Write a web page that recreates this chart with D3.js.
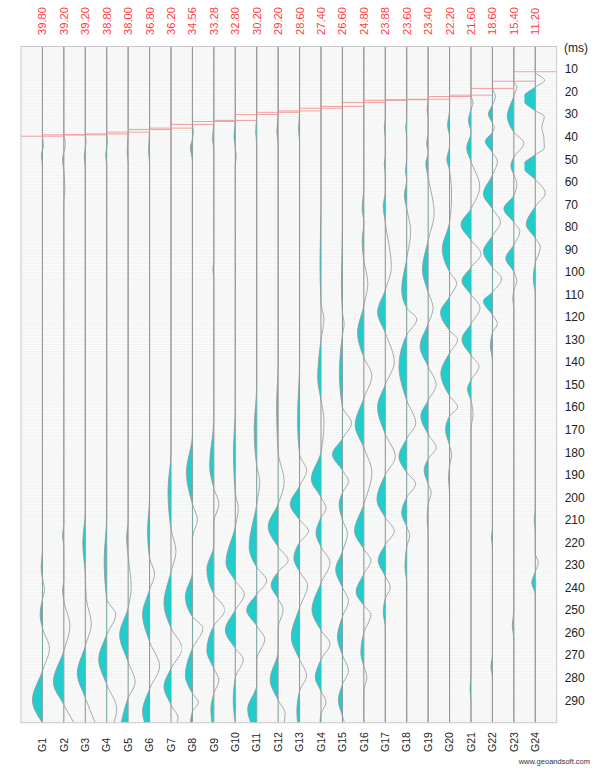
<!DOCTYPE html>
<html>
<head>
<meta charset="utf-8">
<script src="https://cdn.jsdelivr.net/npm/d3@7"></script>
<style>
  body { margin: 0; background: #fff; }
  svg { display: block; }
  text { font-family: "Liberation Sans", Arial, sans-serif; }
</style>
</head>
<body>
<svg id="chart" width="604" height="769"></svg>
<script>
// Geophone channels and first-break picks (ms)
const traceNames = d3.range(1, 25).map(i => "G" + i);
const pickTimes = [39.80, 39.20, 39.20, 38.80, 38.00, 36.80, 36.20, 34.56, 33.28, 32.80, 30.20, 29.20,
                   28.60, 27.40, 26.60, 24.80, 23.88, 23.60, 23.40, 22.20, 21.60, 18.60, 15.40, 11.20];
const timeTicks = [10, 20, 30, 40, 50, 60, 70, 80, 90, 100, 110, 120, 130, 140, 150,
                   160, 170, 180, 190, 200, 210, 220, 230, 240, 250, 260, 270, 280, 290];

// Wiggle samples per channel: [time ms, amplitude] (negative = filled lobe)
const wG1 = [[0,0],[39.8,0],[44,0.1],[48,-0.1],[53,0],[224,0],[231,-0.13],[236,0],[241,0.2],[245,0],[252,-0.23],[258,0],[267,0.7],[277,0],[290,-1.0],[300,0]];
const wG2 = [[0,0],[39.2,0],[43,0.15],[47,0],[50,-0.13],[55,0],[64,0.1],[69,0],[212,0],[217,-0.13],[222,0],[237,0],[241,-0.13],[246,0],[257,0.6],[268,0],[282,-1.05],[292,0],[300,1.0]];
const wG3 = [[0,0],[39.2,0],[42,0.08],[45,0],[49,-0.1],[54,0],[206,0],[220,-0.25],[234,0],[245,0.1],[256,0.6],[266,0],[278,-0.8],[289,0],[300,1.0]];
const wG4 = [[0,0],[38.8,0],[42,0.08],[45,0],[48,-0.1],[53,0],[208,0],[228,-0.25],[245,0],[252,0.9],[261,0],[272,-0.8],[283,0],[294,1.0],[300,0.7]];
const wG5 = [[0,0],[38,0],[47,-0.1],[52,0],[210,0],[218,-0.15],[226,0],[240,0.3],[249,0],[261,-0.85],[273,0],[282,0.7],[289,0],[300,-0.7]];
const wG6 = [[0,0],[36.8,0],[46,-0.1],[52,0],[200,0],[215,-0.2],[227,0],[234,0.5],[241,0],[252,-0.7],[264,0],[275,1.0],[285,0],[295,-0.7],[300,-0.5]];
const wG7 = [[0,0],[36.2,0],[180,0],[197,-0.3],[214,0],[224,0.5],[233,0],[247,-0.7],[258,0],[267,1.1],[276,0],[284,-0.7],[292,0],[298,0.7],[300,0.6]];
const wG8 = [[0,0],[34.56,0],[38,0.1],[41,0],[45,-0.2],[51,0],[172,0],[189,-0.6],[203,0],[210,0.5],[218,0],[233,0],[244,-0.7],[253,0],[258,1.05],[267,0],[279,-0.7],[287,0],[291,0.6],[295,0],[300,-0.2]];
const wG9 = [[0,0],[33.28,0],[41,-0.13],[46,0],[95,0],[99,-0.1],[103,0],[165,0],[186,-0.42],[196,0],[203,0.5],[211,0],[221,0],[232,-0.7],[243,0],[250,1.1],[257,0],[268,-0.7],[276,0],[281,0.5],[287,0],[294,-0.3],[300,-0.2]];
const wG10 = [[0,0],[32.8,0],[40,-0.13],[45,0],[49,0.1],[53,0],[160,0],[180,-0.18],[198,0],[205,0.3],[213,0],[229,-0.93],[237,0],[243,0.9],[250,0],[259,-1.0],[267,0],[272,0.8],[280,0],[290,-0.2],[300,0]];
const wG11 = [[0,0],[30.2,0],[38,-0.1],[43,0],[150,0],[170,-0.25],[186,0],[193,0.3],[203,0],[222,-0.75],[231,0],[237,1.0],[243,0],[250,-1.0],[257,0],[263,0.8],[272,0],[283,0],[294,-0.9],[300,-0.6]];
const wG12 = [[0,0],[29.2,0],[38,-0.13],[43,0],[140,0],[160,-0.15],[180,0],[193,0.6],[203,0],[213,-1.0],[222,0],[228,1.0],[233,0],[239,-0.7],[245,0],[250,0.5],[258,0],[268,0],[281,-0.8],[290,0],[296,0.7],[300,0.6]];
const wG13 = [[0,0],[28.6,0],[37,-0.1],[42,0],[140,0],[165,-0.2],[181,0],[188,0.7],[195,0],[203,-0.93],[210,0],[215,0.9],[220,0],[227,-0.57],[233,0],[239,0.8],[249,0],[262,-0.83],[272,0],[279,0.7],[286,0],[295,-0.27],[300,-0.2]];
const wG14 = [[0,0],[27.4,0],[70,0],[95,-0.1],[114,0],[121,0.3],[130,0],[147,-0.33],[157,0],[166,0.3],[180,0],[192,-0.97],[200,0],[205,0.5],[209,0],[216,-0.5],[222,0],[229,0.9],[238,0],[250,-0.9],[259,0],[265,0.9],[272,0],[280,-0.57],[286,0],[291,0.5],[296,0],[300,-0.1]];
const wG15 = [[0,0],[26.6,0],[80,0],[105,-0.1],[118,0],[123,0.17],[128,0],[145,-0.3],[160,0],[167,0.9],[174,0],[181,-1.0],[188,0],[193,0.6],[198,0],[203,-0.33],[210,0],[216,0.5],[224,0],[232,-0.67],[240,0],[246,0.6],[253,0],[262,-0.5],[270,0],[277,0.6],[283,0],[290,-0.4],[297,0],[300,0.2]];
const wG16 = [[0,0],[24.8,0],[62,0],[72,-0.17],[78,0],[86,-0.17],[95,0],[105,0.4],[115,0],[127,-0.63],[138,0],[146,0.8],[156,0],[168,-0.87],[178,0],[189,0.8],[203,0],[215,-0.93],[223,0],[228,0.7],[234,0],[242,-0.77],[248,0],[252,0.7],[260,0],[269,-0.3],[275,0],[280,0.3],[286,0],[300,0]];
const wG17 = [[0,0],[23.88,0],[32,0],[36,-0.1],[41,0],[48,0],[52,-0.1],[57,0],[64,0],[71,-0.2],[78,0],[98,0.6],[108,0],[118,-0.77],[127,0],[140,0.9],[150,0],[160,-0.77],[172,0],[182,1.0],[190,0],[201,-0.83],[209,0],[215,0.9],[221,0],[228,-0.7],[235,0],[240,0.5],[245,0],[251,-0.2],[258,0],[300,0]];
const wG18 = [[0,0],[23.6,0],[32,0],[36,-0.1],[40,0],[50,0],[55,-0.13],[59,0],[66,-0.23],[72,0],[82,0.4],[94,0],[108,-0.5],[116,0],[121,1.0],[128,0],[142,-0.77],[157,0],[167,0.9],[174,0],[182,-0.77],[189,0],[194,0.9],[200,0],[207,-0.5],[213,0],[217,0.3],[222,0],[231,-0.17],[238,0],[300,0]];
const wG19 = [[0,0],[23.4,0],[28,-0.1],[32,0],[38,0],[43,-0.15],[47,0],[52,-0.23],[58,0],[74,0.6],[86,0],[99,-0.57],[109,0],[116,0.5],[123,0],[133,-0.8],[142,0],[150,0.8],[157,0],[164,-0.73],[172,0],[178,0.8],[183,0],[188,-0.4],[194,0],[198,0.3],[203,0],[210,-0.1],[216,0],[300,0]];
const wG20 = [[0,0],[22.2,0],[28,0],[35,-0.2],[40,0],[44,0],[50,-0.27],[55,0],[66,0.2],[78,0],[90,-0.73],[100,0],[105,0.7],[111,0],[118,-0.9],[126,0],[130,0.8],[136,0],[145,-0.87],[155,0],[160,0.8],[164,0],[170,-0.4],[177,0],[181,0.2],[186,0],[192,-0.1],[198,0],[300,0]];
const wG21 = [[0,0],[21.6,0],[25,0.2],[28,0],[33,-0.25],[38,0],[45,-0.43],[51,0],[62,0.87],[72,0],[79,-1.0],[86,0],[92,1.0],[98,0],[104,-0.9],[110,0],[116,0.9],[123,0],[130,-0.9],[137,0],[142,0.8],[148,0],[152,-0.35],[157,0],[163,0.2],[170,0],[278,0],[285,-0.1],[291,0],[300,0]];
const wG22 = [[0,0],[18.6,0],[22,0.3],[26,0],[30,-0.4],[34,0],[36,0.2],[38,0],[42,-0.7],[47,0],[51,0.5],[57,0],[65.5,-0.9],[72,0],[78,0.8],[84,0],[91,-0.9],[98,0],[103,0.9],[109,0],[113,-0.9],[119,0],[123,0.5],[127,0],[133,-0.2],[139,0],[214,0],[218,-0.1],[222,0],[270,0],[275,-0.15],[280,0],[300,0]];
const wG23 = [[0,0],[15.4,0],[18,0.3],[22,0],[31,-0.65],[38,0],[43,1.0],[49,0],[53,-0.3],[57,0],[61,0.3],[66,0],[72,-1.0],[78,0],[82,0.6],[88,0],[94,-0.8],[100,0],[104,0.3],[108,0],[112,-0.1],[116,0],[250,0],[257,-0.15],[263,0],[300,0]];
const wG24 = [[0,0],[11.2,0],[15,0.93],[18,0],[23,-1.3],[28.5,0],[31,0.9],[36,0.65],[40,0.85],[45,0.9],[48,0],[53,-1.3],[59,0],[65,1.0],[71,0],[79,-0.9],[85,0],[89,0.5],[96,0],[103,-0.2],[110,0],[205,0],[210,-0.1],[216,0],[225,0],[229,0.3],[233,0],[238,-0.35],[243,0],[300,0]];

const wiggles = [wG1, wG2, wG3, wG4, wG5, wG6, wG7, wG8, wG9, wG10, wG11, wG12,
                 wG13, wG14, wG15, wG16, wG17, wG18, wG19, wG20, wG21, wG22, wG23, wG24];

const svg = d3.select("#chart");
const plot = { left: 21, right: 556.7, top: 46.5, bottom: 722.7 };

const x = d3.scalePoint().domain(traceNames).range([plot.left, plot.right]).padding(1);
const step = x.step();
const y = d3.scaleLinear().domain([0, 300]).range([plot.top, plot.bottom]);
const amp = d3.scaleLinear().domain([0, 1]).range([0, step * 0.467]);
const clipLevel = 1.08;

const FILL = "#22cccc";

// plot background with fine 1 ms rulings
svg.append("rect")
  .attr("x", plot.left).attr("y", plot.top)
  .attr("width", plot.right - plot.left).attr("height", plot.bottom - plot.top)
  .attr("fill", "#fcfcfc");
svg.append("g").selectAll("line")
  .data(d3.range(0, 300, 1))
  .join("line")
  .attr("x1", plot.left).attr("x2", plot.right)
  .attr("y1", d => y(d) + 0.5).attr("y2", d => y(d) + 0.5)
  .attr("stroke", "#ebeded").attr("stroke-width", 0.7);

// trace baselines
svg.append("g").selectAll("line")
  .data(traceNames)
  .join("line")
  .attr("x1", d => x(d)).attr("x2", d => x(d))
  .attr("y1", plot.top).attr("y2", plot.bottom)
  .attr("stroke", "#929292").attr("stroke-width", 1);

const defs = svg.append("defs");
traceNames.forEach((name, i) => {
  const cx = x(name);
  const w = amp(clipLevel);
  defs.append("clipPath").attr("id", "neg" + i)
    .append("rect").attr("x", cx - w).attr("y", plot.top).attr("width", w).attr("height", plot.bottom - plot.top);
  defs.append("clipPath").attr("id", "all" + i)
    .append("rect").attr("x", cx - w).attr("y", plot.top).attr("width", 2 * w).attr("height", plot.bottom - plot.top);
});

const traces = svg.append("g");
wiggles.forEach((samples, i) => {
  const cx = x(traceNames[i]);
  const area = d3.area()
    .y(d => y(d[0]))
    .x0(cx)
    .x1(d => cx + amp(d[1]))
    .curve(d3.curveMonotoneY);
  const line = d3.line()
    .y(d => y(d[0]))
    .x(d => cx + amp(d[1]))
    .curve(d3.curveMonotoneY);
  traces.append("path")
    .attr("d", area(samples))
    .attr("fill", FILL)
    .attr("clip-path", `url(#neg${i})`);
  traces.append("path")
    .attr("d", line(samples))
    .attr("fill", "none")
    .attr("stroke", "#959595")
    .attr("stroke-width", 0.8)
    .attr("clip-path", `url(#all${i})`);
});

// plot frame
svg.append("rect")
  .attr("x", plot.left).attr("y", plot.top)
  .attr("width", plot.right - plot.left).attr("height", plot.bottom - plot.top)
  .attr("fill", "none").attr("stroke", "#c8c8c8").attr("stroke-width", 1);

// first-break pick marks, spanning neighbouring traces
svg.append("g").selectAll("line")
  .data(pickTimes)
  .join("line")
  .attr("x1", (d, i) => i === 0 ? plot.left : x(traceNames[i - 1]))
  .attr("x2", (d, i) => i === traceNames.length - 1 ? plot.right : x(traceNames[i + 1]))
  .attr("y1", d => y(d)).attr("y2", d => y(d))
  .attr("stroke", "#f28a8a").attr("stroke-width", 1).attr("stroke-opacity", 0.8);

// pick values above traces
svg.append("g").selectAll("text")
  .data(pickTimes)
  .join("text")
  .attr("transform", (d, i) => `translate(${x(traceNames[i])},35) rotate(-90)`)
  .attr("dy", "0.36em")
  .attr("text-anchor", "start")
  .attr("font-size", 11.2)
  .attr("fill", "#ff3b3b")
  .text(d => d3.format(".2f")(d));

// channel names below
svg.append("g").selectAll("text")
  .data(traceNames)
  .join("text")
  .attr("transform", d => `translate(${x(d)},752) rotate(-90)`)
  .attr("dy", "0.36em")
  .attr("text-anchor", "start")
  .attr("font-size", 10.5)
  .attr("fill", "#222")
  .text(d => d);

// time axis on the right
const axis = svg.append("g")
  .attr("transform", `translate(${plot.right},0)`)
  .call(d3.axisRight(y).tickValues(timeTicks).tickSize(0).tickPadding(8).tickFormat(d3.format("d")));
axis.select(".domain").remove();
axis.selectAll("text").attr("font-size", 12).attr("fill", "#222")
  .attr("font-family", "'Liberation Sans', Arial, sans-serif");

svg.append("text")
  .attr("x", 564).attr("y", 48).attr("dy", "0.35em")
  .attr("font-size", 12).attr("fill", "#222")
  .text("(ms)");

svg.append("text")
  .attr("x", 590).attr("y", 764)
  .attr("text-anchor", "end")
  .attr("font-size", 7.5).attr("fill", "#333")
  .text("www.geoandsoft.com");
</script>
</body>
</html>
